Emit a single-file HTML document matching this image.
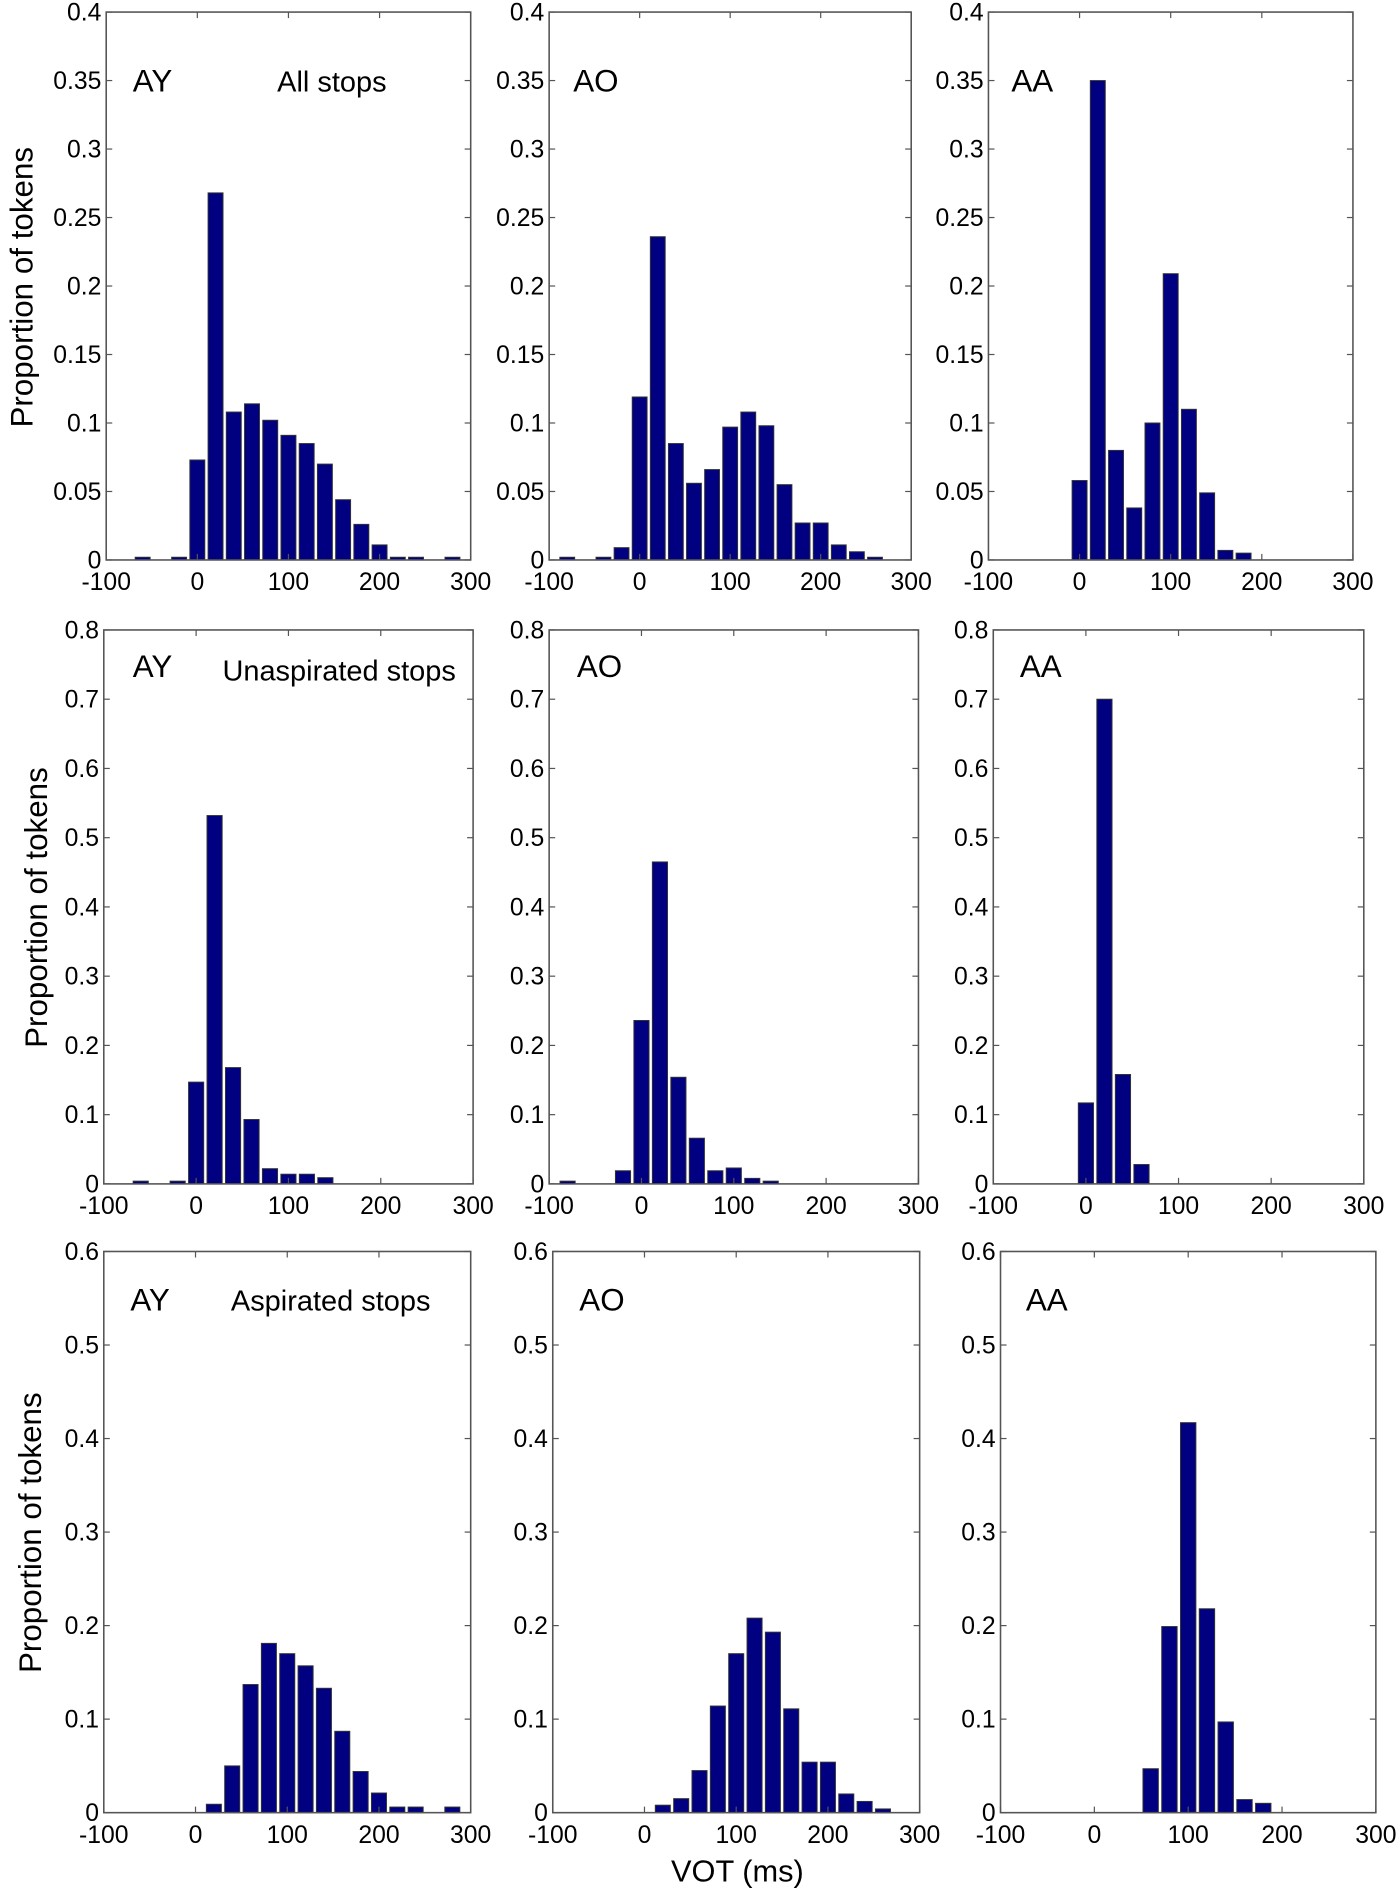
<!DOCTYPE html>
<html><head><meta charset="utf-8"><style>
html,body{margin:0;padding:0;background:#fff}
svg{display:block}
text{font-family:"Liberation Sans",Arial,sans-serif;fill:#000}
</style></head><body>
<svg id="fig" width="1400" height="1894" viewBox="0 0 1160 1569.4" preserveAspectRatio="none" xmlns="http://www.w3.org/2000/svg"></svg>
<script>
const binCenters = [-80,-60,-40,-20,0,20,40,60,80,100,120,140,160,180,200,220,240,260,280];
const xTicks = [-100,0,100,200,300];
const yTicksRow1 = [0,0.05,0.1,0.15,0.2,0.25,0.3,0.35,0.4];
const yTicksRow2 = [0,0.1,0.2,0.3,0.4,0.5,0.6,0.7,0.8];
const yTicksRow3 = [0,0.1,0.2,0.3,0.4,0.5,0.6];
const allAY = [0,0.002,0,0.002,0.073,0.268,0.108,0.114,0.102,0.091,0.085,0.070,0.044,0.026,0.011,0.002,0.002,0,0.002];
const allAO = [0.002,0,0.002,0.009,0.119,0.236,0.085,0.056,0.066,0.097,0.108,0.098,0.055,0.027,0.027,0.011,0.006,0.002,0];
const allAA = [0,0,0,0,0.058,0.350,0.080,0.038,0.100,0.209,0.110,0.049,0.007,0.005,0,0,0,0,0];
const unAY = [0,0.004,0,0.004,0.147,0.532,0.168,0.093,0.022,0.014,0.014,0.009,0,0,0,0,0,0,0];
const unAO = [0.004,0,0,0.019,0.236,0.465,0.154,0.066,0.019,0.023,0.008,0.004,0,0,0,0,0,0,0];
const unAA = [0,0,0,0,0.117,0.700,0.158,0.028,0,0,0,0,0,0,0,0,0,0,0];
const asAY = [0,0,0,0,0,0.009,0.050,0.137,0.181,0.170,0.157,0.133,0.087,0.044,0.021,0.006,0.006,0,0.006];
const asAO = [0,0,0,0,0,0.008,0.015,0.045,0.114,0.170,0.208,0.193,0.111,0.054,0.054,0.020,0.012,0.004,0];
const asAA = [0,0,0,0,0,0,0,0.047,0.199,0.417,0.218,0.097,0.014,0.010,0,0,0,0,0];

const NS="http://www.w3.org/2000/svg";
const svg=document.getElementById('fig');
function mk(tag,attrs,parent){const e=document.createElementNS(NS,tag);for(const k in attrs)e.setAttribute(k,attrs[k]);(parent||svg).appendChild(e);return e;}

const panels=[
 {name:'all-ay',box:[88,390,10,464],data:allAY,yt:yTicksRow1,ymax:0.4,lab:'AY',lx:110,ly:76,sub:'All stops',sx:275,sy:76},
 {name:'all-ao',box:[455,755,10,464],data:allAO,yt:yTicksRow1,ymax:0.4,lab:'AO',lx:475,ly:76},
 {name:'all-aa',box:[819,1121,10,464],data:allAA,yt:yTicksRow1,ymax:0.4,lab:'AA',lx:838,ly:76},
 {name:'unasp-ay',box:[86,392,522,981],data:unAY,yt:yTicksRow2,ymax:0.8,lab:'AY',lx:110,ly:561,sub:'Unaspirated stops',sx:281,sy:564},
 {name:'unasp-ao',box:[455,761,522,981],data:unAO,yt:yTicksRow2,ymax:0.8,lab:'AO',lx:478,ly:561},
 {name:'unasp-aa',box:[823,1130,522,981],data:unAA,yt:yTicksRow2,ymax:0.8,lab:'AA',lx:845,ly:561},
 {name:'asp-ay',box:[86,390,1037,1502],data:asAY,yt:yTicksRow3,ymax:0.6,lab:'AY',lx:108,ly:1086,sub:'Aspirated stops',sx:274,sy:1086},
 {name:'asp-ao',box:[458,762,1037,1502],data:asAO,yt:yTicksRow3,ymax:0.6,lab:'AO',lx:480,ly:1086},
 {name:'asp-aa',box:[829,1140,1037,1502],data:asAA,yt:yTicksRow3,ymax:0.6,lab:'AA',lx:850,ly:1086}
];

panels.forEach(p=>{
 const [L,R,T,B]=p.box;
 const g=mk('g',{});
 
 
 const xs=v=>L+(v+100)/400*(R-L);
 const ys=v=>B-v/p.ymax*(B-T);
 const bw=(xs(20)-xs(0))*0.82;
 binCenters.forEach((c,i)=>{
  const v=p.data[i]; if(!v) return;
  const r=mk('rect',{x:xs(c)-bw/2,y:ys(v),width:bw,height:B-ys(v),fill:'#000080',stroke:'#333','stroke-width':0.8},g);
  
  
 });
 mk('rect',{x:L,y:T,width:R-L,height:B-T,fill:'none',stroke:'#555','stroke-width':1.3},g);
 xTicks.forEach(t=>{
  const x=xs(t);
  mk('line',{x1:x,x2:x,y1:B,y2:B-5,stroke:'#555','stroke-width':1},g);
  mk('line',{x1:x,x2:x,y1:T,y2:T+5,stroke:'#555','stroke-width':1},g);
  const tx=mk('text',{x:x,y:B+25,'text-anchor':'middle','font-size':20.5},g);
  tx.textContent=t;
  
  
 });
 p.yt.forEach(t=>{
  const y=ys(t);
  mk('line',{x1:L,x2:L+5,y1:y,y2:y,stroke:'#555','stroke-width':1},g);
  mk('line',{x1:R,x2:R-5,y1:y,y2:y,stroke:'#555','stroke-width':1},g);
  const tx=mk('text',{x:L-4,y:y+7,'text-anchor':'end','font-size':20.5},g);
  tx.textContent=String(t);
  
  
 });
 const lb=mk('text',{x:p.lx,y:p.ly,'font-size':26},g);
 lb.textContent=p.lab;
 
 
 if(p.sub){
  const s=mk('text',{x:p.sx,y:p.sy,'font-size':24,'text-anchor':'middle'},g);
  s.textContent=p.sub;
  
  
 }
});
[[27,238],[39,752],[34,1270]].forEach(([x,y])=>{
 const t=mk('text',{x:x,y:y,'font-size':26,'text-anchor':'middle',transform:`rotate(-90 ${x} ${y})`});
 t.textContent='Proportion of tokens';
 
 
});
const xt=mk('text',{x:611,y:1559,'font-size':25.5,'text-anchor':'middle'});
xt.textContent='VOT (ms)';


</script>
</body></html>
